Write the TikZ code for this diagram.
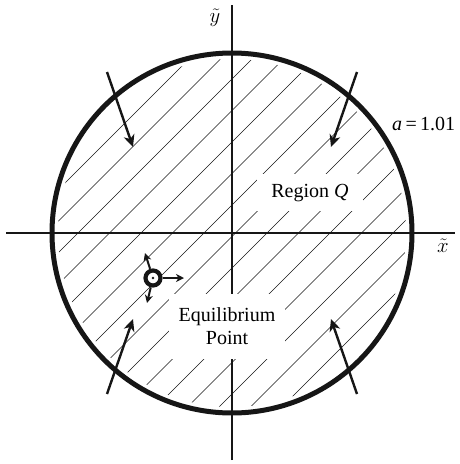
\documentclass[tikz,border=0pt]{standalone}
\usepackage{fontspec}
\setmainfont{Liberation Serif}
\usetikzlibrary{arrows.meta,positioning}
\definecolor{inkblack}{RGB}{22,22,22}

\tikzset{
    axisline/.style={inkblack, line width=2.6pt},
    boundary/.style={inkblack, line width=5pt},
    hatchline/.style={inkblack, line width=0.6pt},
    flowarrow/.style={inkblack, line width=2.4pt, -{Stealth[length=12pt,width=11pt,inset=3.5pt]}},
    eqarrow/.style={inkblack, line width=2pt, -{Stealth[length=8pt,width=8pt,inset=2.5pt]}},
    lbl/.style={font=\fontsize{20}{23}\selectfont, inner sep=0pt},
}

\begin{document}
\begin{tikzpicture}[x=1pt,y=-1pt]
\useasboundingbox (0,0) rectangle (459,464);

% =========================
% 1. hatched region
% =========================
\begin{scope}[shift={(232,233)}]
    \begin{scope}
        \clip (0,0) circle (174pt);
        \foreach \k in {-8,...,7}{
            \pgfmathsetmacro{\u}{3.5+31.5*\k}
            \draw[hatchline] (\u/2-200,\u/2+200) -- (\u/2+200,\u/2-200);
        }
    \end{scope}
\end{scope}

% =========================
% 2. axes
% =========================
\coordinate (xstart) at (6,233);
\coordinate (xend) at (455,233);
\coordinate (ystart) at (232,460);
\coordinate (yend) at (232,5);
\draw[axisline] (xstart) -- (xend);
\draw[axisline] (ystart) -- (yend);
\node[lbl] (xlab) at (443,246) {$\tilde{x}$};
\node[lbl] (ylab) at (215,18) {$\tilde{y}$};

% boundary circle
\draw[boundary] (232,233) circle (180pt);
\node[lbl, anchor=base west] (alab) at (392,130) {\textit{a}\,=\,1.01};

% =========================
% 3. inward arrows
% =========================
\begin{scope}[shift={(232,233)}]
    \foreach \sx/\sy/\n in {-1/-1/tl, 1/-1/tr, -1/1/bl, 1/1/br}{
        \coordinate (\n start) at (125*\sx,161*\sy);
        \coordinate (\n tip) at (99*\sx,86*\sy);
        \draw[flowarrow] (\n start) -- (\n tip);
    }
\end{scope}

% =========================
% 4. equilibrium point
% =========================
\node[circle, draw=inkblack, fill=white, line width=4.2pt, minimum size=15pt, inner sep=0pt] (eq) at (153,278) {};
\fill[inkblack] (eq.center) circle (1.3pt);
\coordinate (eqright) at (184,278);
\coordinate (equp) at (145,253);
\coordinate (eqdown) at (147,303);
\draw[eqarrow] (eq) -- (eqright);
\draw[eqarrow] (eq) -- (equp);
\draw[eqarrow] (eq) -- (eqdown);

% labels on white patches
\node[lbl, fill=white, inner xsep=14pt, inner ysep=10pt, anchor=base] (regionq) at (310,197) {Region \textit{Q}};
\node[lbl, fill=white, align=center, inner xsep=10pt, inner ysep=14pt] (eqlab) at (227,326.5) {Equilibrium\\Point};

\end{tikzpicture}
\end{document}
